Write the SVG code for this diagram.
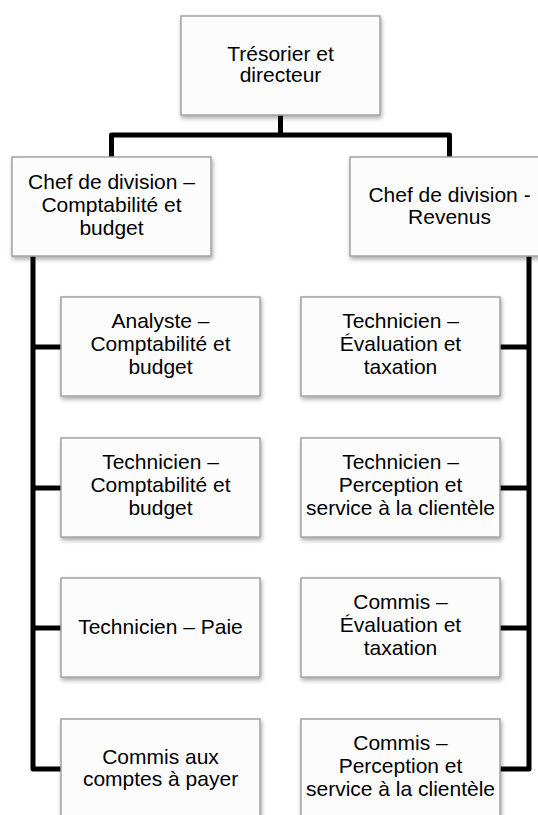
<svg xmlns="http://www.w3.org/2000/svg" width="538" height="815" viewBox="0 0 538 815">
<defs>
<filter id="sh" x="-10%" y="-10%" width="125%" height="130%">
<feDropShadow dx="1" dy="2.5" stdDeviation="2" flood-color="#000" flood-opacity="0.35"/>
</filter>
<style>
.box{fill:#fcfcfc;stroke:#a3a3a3;stroke-width:1.5;filter:url(#sh)}
.t{font-family:"Liberation Sans",Arial,sans-serif;font-size:21px;fill:#000;text-anchor:middle}
.c{fill:none;stroke:#000;stroke-width:5;stroke-linejoin:round}
</style>
</defs>
<rect width="538" height="815" fill="#fff"/>
<g id="connectors">
<path class="c" d="M280.5,115 V135 M111.5,157 V135 H449.5 V157"/>
<path class="c" d="M33,256 V769 H61 M33,347 H61 M33,488 H61 M33,628 H61"/>
<path class="c" d="M529,256 V769 H500 M529,347 H500 M529,488 H500 M529,628 H500"/>
</g>
<g id="tresorier">
<rect class="box" x="181" y="16" width="199" height="99"/>
<text class="t" x="280.5" y="61">Trésorier et</text>
<text class="t" x="280.5" y="82">directeur</text>
</g>
<g id="chef-comptabilite">
<rect class="box" x="12" y="157" width="199" height="99"/>
<text class="t" x="111.5" y="189">Chef de division –</text>
<text class="t" x="111.5" y="212">Comptabilité et</text>
<text class="t" x="111.5" y="235">budget</text>
</g>
<g id="chef-revenus">
<rect class="box" x="350" y="157" width="199" height="99"/>
<text class="t" x="449.5" y="201.5">Chef de division -</text>
<text class="t" x="449.5" y="223.5">Revenus</text>
</g>
<g id="analyste">
<rect class="box" x="61" y="297" width="199" height="99"/>
<text class="t" x="160.5" y="328">Analyste –</text>
<text class="t" x="160.5" y="351">Comptabilité et</text>
<text class="t" x="160.5" y="374">budget</text>
</g>
<g id="tech-comptabilite">
<rect class="box" x="61" y="438" width="199" height="99"/>
<text class="t" x="160.5" y="469">Technicien –</text>
<text class="t" x="160.5" y="492">Comptabilité et</text>
<text class="t" x="160.5" y="515">budget</text>
</g>
<g id="tech-paie">
<rect class="box" x="61" y="578" width="199" height="99"/>
<text class="t" x="160.5" y="633.5">Technicien – Paie</text>
</g>
<g id="commis-comptes">
<rect class="box" x="61" y="719" width="199" height="99"/>
<text class="t" x="160.5" y="763.5">Commis aux</text>
<text class="t" x="160.5" y="785.5">comptes à payer</text>
</g>
<g id="tech-evaluation">
<rect class="box" x="301" y="297" width="199" height="99"/>
<text class="t" x="400.5" y="328">Technicien –</text>
<text class="t" x="400.5" y="351">Évaluation et</text>
<text class="t" x="400.5" y="374">taxation</text>
</g>
<g id="tech-perception">
<rect class="box" x="301" y="438" width="199" height="99"/>
<text class="t" x="400.5" y="469">Technicien –</text>
<text class="t" x="400.5" y="492">Perception et</text>
<text class="t" x="400.5" y="515">service à la clientèle</text>
</g>
<g id="commis-evaluation">
<rect class="box" x="301" y="578" width="199" height="99"/>
<text class="t" x="400.5" y="609">Commis –</text>
<text class="t" x="400.5" y="632">Évaluation et</text>
<text class="t" x="400.5" y="655">taxation</text>
</g>
<g id="commis-perception">
<rect class="box" x="301" y="719" width="199" height="99"/>
<text class="t" x="400.5" y="750">Commis –</text>
<text class="t" x="400.5" y="773">Perception et</text>
<text class="t" x="400.5" y="796">service à la clientèle</text>
</g>
</svg>
